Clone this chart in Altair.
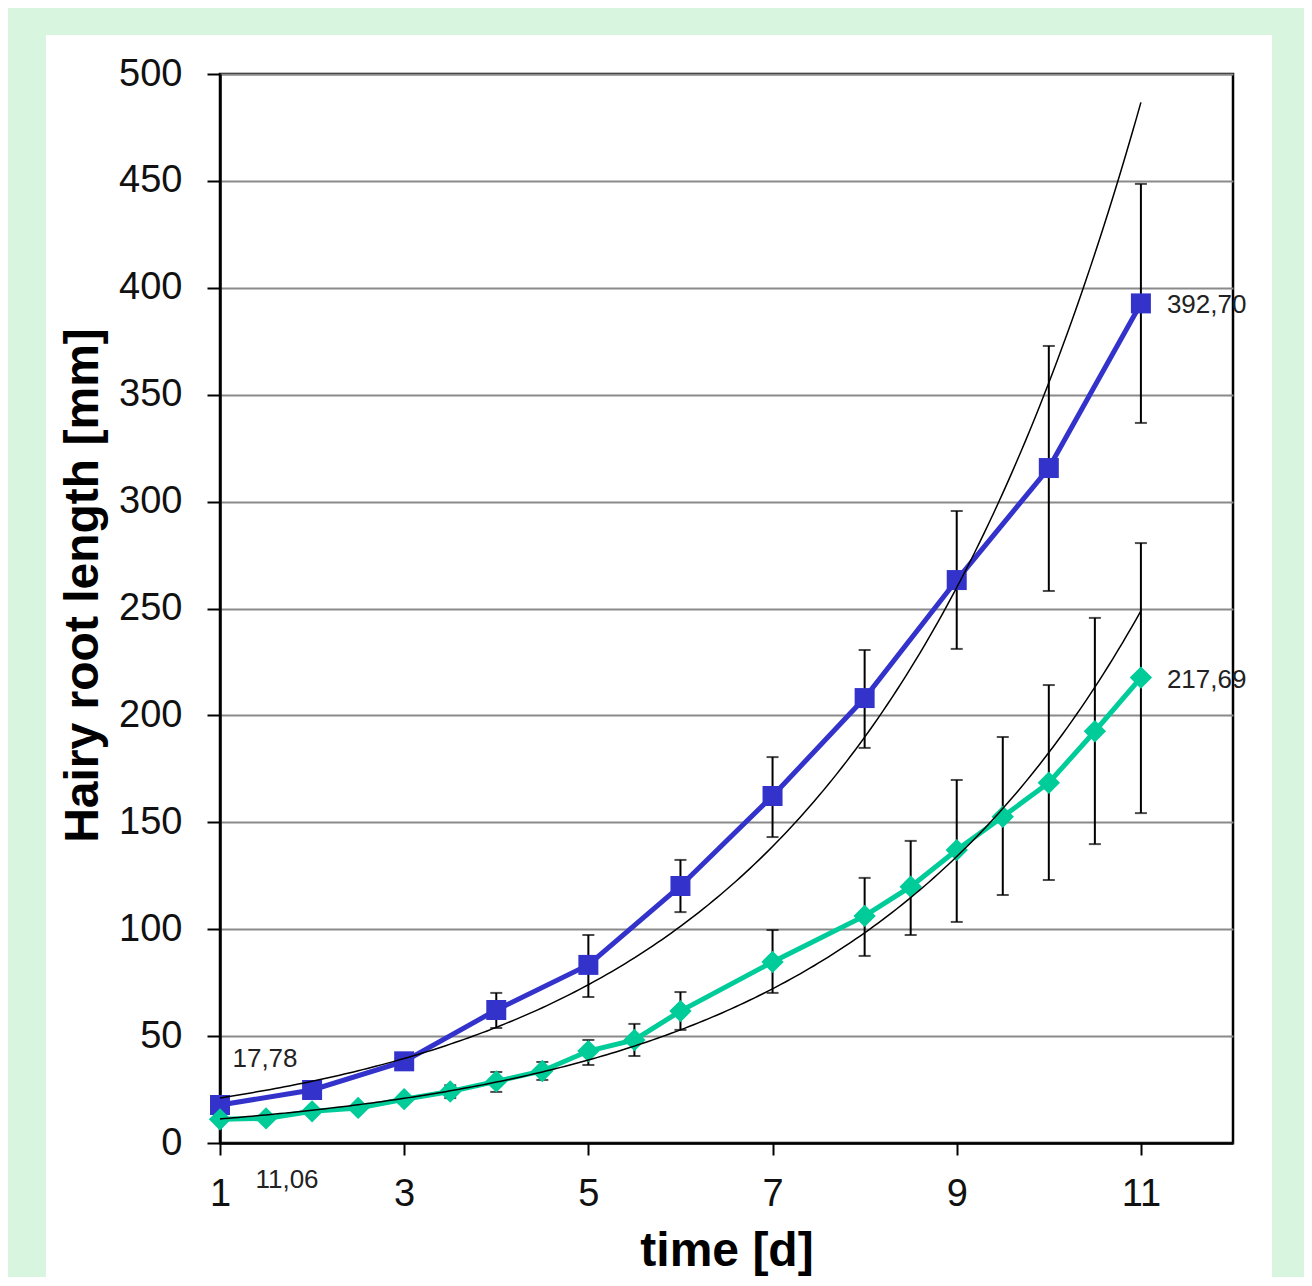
import altair as alt
import pandas as pd

# ---- data ----
x_blue = [1, 2, 3, 4, 5, 6, 7, 8, 9, 10, 11]
y_blue = [17.78, 24.8, 38.2, 62.2, 83.3, 120.2, 162.3, 208.1, 263.3, 315.7, 392.70]
lo_blue = [None, None, None, 53.8, 68.3, 108.0, 143.1, 184.8, 231.1, 258.2, 336.8]
hi_blue = [None, None, None, 70.2, 97.3, 132.4, 180.5, 230.6, 295.6, 372.8, 448.6]

x_green = [1, 1.5, 2, 2.5, 3, 3.5, 4, 4.5, 5, 5.5, 6, 7, 8, 8.5, 9, 9.5, 10, 10.5, 11]
y_green = [11.06, 11.5, 14.8, 16.4, 20.5, 24.1, 28.8, 33.7, 43.0, 48.2, 61.7, 84.7,
           106.2, 119.9, 137.0, 152.6, 168.5, 192.6, 217.69]
lo_green = [None, None, None, None, None, 21.0, 23.9, 29.5, 36.5, 40.7, 52.9, 70.2,
            87.5, 97.3, 103.4, 116.0, 123.0, 139.8, 154.3]
hi_green = [None, None, None, None, None, 27.0, 33.2, 37.9, 48.2, 55.7, 70.6, 99.6,
            124.0, 141.3, 169.8, 189.9, 214.2, 245.6, 280.6]

x_ticks = [1, 3, 5, 7, 9, 11]
y_ticks = [0, 50, 100, 150, 200, 250, 300, 350, 400, 450, 500]

rows = []
for x, y, lo, hi in zip(x_blue, y_blue, lo_blue, hi_blue):
    rows.append({"series": "A", "x": x, "y": y, "lo": lo, "hi": hi})
for x, y, lo, hi in zip(x_green, y_green, lo_green, hi_green):
    rows.append({"series": "B", "x": x, "y": y, "lo": lo, "hi": hi})
df = pd.DataFrame(rows)

BLUE = "#3333cc"
GREEN = "#00cc99"
BG = "#d8f5df"
FONT = "Liberation Sans"

W, H = 1013, 1069

xscale = alt.Scale(domain=[1, 12], nice=False, zero=False)
yscale = alt.Scale(domain=[0, 500], nice=False)

xaxis = alt.Axis(values=x_ticks, title="time [d]", grid=False, tickSize=12, tickWidth=2,
                 tickColor="black", domainColor="black", domainWidth=2.5,
                 labelFontSize=38, labelFont=FONT, labelColor="#111", labelPadding=20,
                 titleFontSize=48, titleFont=FONT, titleFontWeight="bold", titleColor="black",
                 titleBaseline="alphabetic", titleY=122, labelFlush=False)
yaxis = alt.Axis(values=y_ticks, title="Hairy root length [mm]", grid=True, gridColor="#8a8a8a",
                 gridWidth=2, tickSize=13, tickWidth=2, tickColor="black", domainColor="black",
                 domainWidth=2.5, labelFontSize=38, labelFont=FONT, labelColor="#111",
                 labelPadding=25, titleFontSize=48, titleFont=FONT, titleFontWeight="bold",
                 titleColor="black", titleBaseline="alphabetic", titleX=-123, titleY=511,
                 titleAngle=-90, labelFlush=False)


def X(field):
    return alt.X(field, scale=xscale, axis=xaxis)


def Y(field):
    return alt.Y(field, scale=yscale, axis=yaxis)


base = alt.Chart(df)

# error bars
err = base.transform_filter("isValid(datum.lo)").mark_rule(color="black", strokeWidth=2).encode(
    x=X("x:Q"), y=Y("lo:Q"), y2="hi:Q",
)
cap_lo = base.transform_filter("isValid(datum.lo)").mark_tick(
    color="black", orient="horizontal", size=12, thickness=2).encode(x=X("x:Q"), y=Y("lo:Q"))
cap_hi = base.transform_filter("isValid(datum.hi)").mark_tick(
    color="black", orient="horizontal", size=12, thickness=2).encode(x=X("x:Q"), y=Y("hi:Q"))


def series_layers(code, color, shape, size):
    d = base.transform_filter(f"datum.series == '{code}'")
    line = d.mark_line(color=color, strokeWidth=5).encode(x=X("x:Q"), y=Y("y:Q"))
    pts = d.mark_point(shape=shape, filled=True, color=color, size=size, opacity=1).encode(
        x=X("x:Q"), y=Y("y:Q"))
    return line, pts


bl, bp = series_layers("A", BLUE, "square", 400)
gl, gp = series_layers("B", GREEN, "diamond", 500)

# exponential trend lines (least squares on log values), computed by Vega
trend = (
    base.transform_calculate(ly="log(datum.y)", xly="datum.x*log(datum.y)", xx="datum.x*datum.x")
    .transform_aggregate(n="count()", sx="sum(x)", sy="sum(ly)", sxy="sum(xly)", sxx="sum(xx)",
                         minx="min(x)", maxx="max(x)", groupby=["series"])
    .transform_calculate(b="(datum.n*datum.sxy - datum.sx*datum.sy)/(datum.n*datum.sxx - datum.sx*datum.sx)")
    .transform_calculate(a="(datum.sy - datum.b*datum.sx)/datum.n")
    .transform_calculate(xs="sequence(datum.minx, datum.maxx + 0.001, 0.05)")
    .transform_flatten(["xs"])
    .transform_calculate(yt="exp(datum.a + datum.b*datum.xs)")
    .mark_line(color="black", strokeWidth=1.5)
    .encode(x=X("xs:Q"), y=Y("yt:Q"), detail="series:N")
)


def label(filter_expr, align, dx, dy):
    return (base.transform_filter(filter_expr)
            .transform_calculate(lbl="replace(format(datum.y, '.2f'), '.', ',')")
            .mark_text(font=FONT, fontSize=26, color="#222", align=align, baseline="alphabetic",
                       dx=dx, dy=dy)
            .encode(x=X("x:Q"), y=Y("y:Q"), text="lbl:N"))


lab1 = label("datum.series == 'A' && datum.x == 1", "center", 45, -38)
lab2 = label("datum.series == 'B' && datum.x == 1", "center", 67, 69)
lab3 = label("datum.series == 'A' && datum.x == 11", "left", 26, 10)
lab4 = label("datum.series == 'B' && datum.x == 11", "left", 26, 10)

# light green frame around the white panel
frame_df = pd.DataFrame({"k": [0]})
fb = alt.Chart(frame_df)
frame_left = fb.mark_rect(color=BG).encode(x=alt.value(-212), x2=alt.value(-174),
                                           y=alt.value(-66), y2=alt.value(1212))
frame_top = fb.mark_rect(color=BG).encode(x=alt.value(-212), x2=alt.value(1092),
                                          y=alt.value(-66), y2=alt.value(-39))
frame_right = fb.mark_rect(color=BG).encode(x=alt.value(1052), x2=alt.value(1092),
                                            y=alt.value(-66), y2=alt.value(1212))

chart = alt.layer(
    err, cap_lo, cap_hi, bl, gl, bp, gp, trend, lab1, lab2, lab3, lab4,
    frame_left, frame_top, frame_right,
).properties(
    width=W, height=H,
    autosize=alt.AutoSizeParams(type="none"),
    padding={"left": 212, "top": 66, "right": 71, "bottom": 134},
    background="white",
).configure_view(stroke="black", strokeWidth=2.5)

chart.save("out.html", embed_options={"renderer": "svg", "actions": False})
